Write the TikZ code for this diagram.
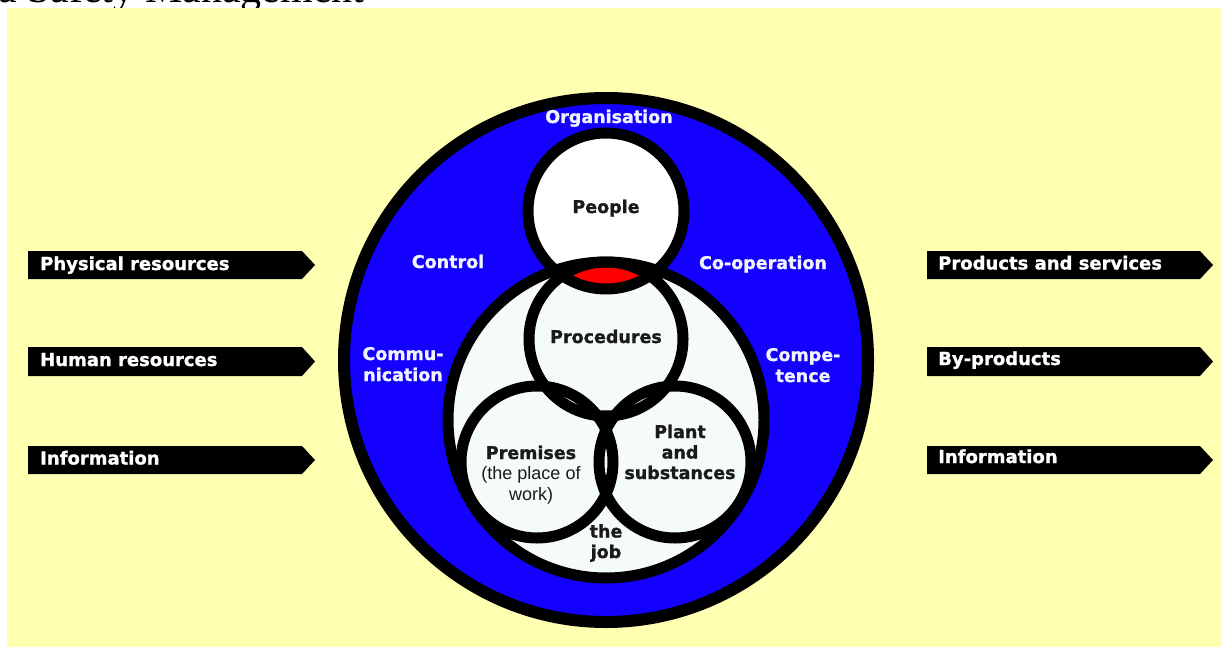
\documentclass[tikz,border=0pt]{standalone}
\usepackage{fontspec}
\setmainfont{DejaVu Sans}
\newfontfamily\heavyfont{DejaVu Sans Bold}[FakeBold=1.2]
\newfontfamily\plainfont{Liberation Sans}
\newfontfamily\titlefont{Liberation Serif}

\definecolor{paper}{RGB}{255,255,178}
\definecolor{ringblue}{RGB}{20,0,255}
\definecolor{pale}{RGB}{245,251,251}
\definecolor{hotspot}{RGB}{255,0,0}
\definecolor{ink}{RGB}{26,26,26}
\definecolor{snow}{RGB}{240,244,255}

\tikzset{
  ring/.style={draw=black, line width=11pt},
  outerring/.style={draw=black, line width=12pt},
  flowbar/.style={fill=black},
  bartext/.style={anchor=base west, inner sep=0pt, text=white,
    font=\heavyfont\fontsize{18}{20}\selectfont},
  bluetext/.style={text=snow, inner sep=0pt, align=center, anchor=base,
    font=\heavyfont\fontsize{17.5}{21}\selectfont},
  darktext/.style={text=ink, inner sep=0pt, align=center, anchor=base,
    font=\heavyfont\fontsize{17.5}{20.5}\selectfont},
  lighttext/.style={text=ink, inner sep=0pt, align=center, anchor=base,
    font=\plainfont\fontsize{18}{20.5}\selectfont},
}

\begin{document}
\begin{tikzpicture}[x=1pt,y=-1pt]
\useasboundingbox (0,0) rectangle (1222,647);

% running heading above the panel, cut by the page edge
\node[anchor=base west, inner sep=0pt, text=black,
      font=\titlefont\fontsize{42}{42}\selectfont] (heading) at (-2,2.5) {a Safety Management};

% panel
\fill[paper] (7,8) rectangle (1222,647);

% circle centres
\coordinate (cOuter) at (606,360);
\coordinate (cInner) at (606,420);
\coordinate (cPeople) at (606,211);
\coordinate (cProc) at (606,339);
\coordinate (cPrem) at (537,462);
\coordinate (cPlant) at (675,462);

% fills
\fill[ringblue] (cOuter) circle (262pt);
\fill[pale] (cInner) circle (158pt);
\fill[pale] (cProc) circle (77pt);
\fill[pale] (cPrem) circle (76pt);
\fill[pale] (cPlant) circle (76pt);
\fill[white] (cPeople) circle (78pt);

% overlap of people and procedures
\begin{scope}
  \clip (cPeople) circle (78pt);
  \fill[hotspot] (cProc) circle (77pt);
\end{scope}

% outlines
\draw[outerring] (cOuter) circle (262pt);
\draw[ring] (cInner) circle (158pt);
\draw[ring] (cProc) circle (77pt);
\draw[ring] (cPrem) circle (76pt);
\draw[ring] (cPlant) circle (76pt);
\draw[ring] (cPeople) circle (78pt);

% labels in the blue ring (base = baseline of the last line)
\node[bluetext] (org) at (609,123) {Organisation};
\node[bluetext] (ctrl) at (448,268) {Control};
\node[bluetext] (coop) at (763,269) {Co-operation};
\node[bluetext] (comm) at (403,381) {Commu-\\nication};
\node[bluetext] (comp) at (803,382) {Compe-\\tence};

% labels in the circles
\node[darktext] (people) at (606,213) {People};
\node[darktext] (proc) at (606,343) {Procedures};
\node[darktext] (prem) at (531,459) {Premises};
\node[lighttext] (premnote) at (531,500) {(the place of\\work)};
\node[darktext] (plant) at (680,479) {Plant\\and\\substances};
\node[darktext] (job) at (606,558) {the\\job};

% inputs
\fill[flowbar] (28,251) -- (302,251) -- (315,265) -- (302,279) -- (28,279) -- cycle;
\node[bartext] (in1) at (40,270) {Physical resources};
\fill[flowbar] (28,347) -- (302,347) -- (315,361.5) -- (302,376) -- (28,376) -- cycle;
\node[bartext] (in2) at (40,366) {Human resources};
\fill[flowbar] (28,446) -- (302,446) -- (315,460) -- (302,474) -- (28,474) -- cycle;
\node[bartext] (in3) at (40,464.5) {Information};

% outputs
\fill[flowbar] (927,251) -- (1200,251) -- (1213,265) -- (1200,279) -- (927,279) -- cycle;
\node[bartext] (out1) at (938,269.5) {Products and services};
\fill[flowbar] (927,347) -- (1200,347) -- (1213,361.5) -- (1200,376) -- (927,376) -- cycle;
\node[bartext] (out2) at (938,365) {By-products};
\fill[flowbar] (927,446) -- (1200,446) -- (1213,460) -- (1200,474) -- (927,474) -- cycle;
\node[bartext] (out3) at (938,463) {Information};
\end{tikzpicture}
\end{document}
